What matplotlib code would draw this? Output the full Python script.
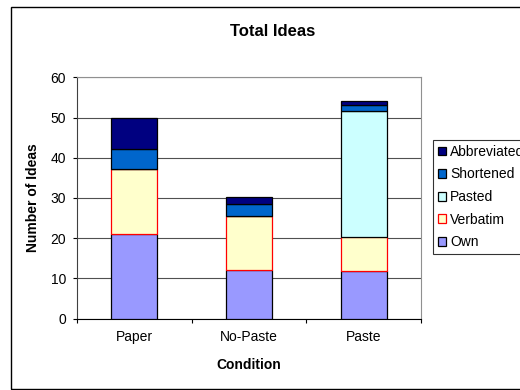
import matplotlib.pyplot as plt
import matplotlib.patches as patches
import numpy as np

# Values
conditions = ['Paper', 'No-Paste', 'Paste']
own = [20.9, 12.1, 11.7]
verbatim = [16.4, 13.5, 8.6]
pasted = [0, 0, 31.2]
shortened = [4.9, 2.9, 1.7]
abbreviated = [7.8, 1.7, 0.8]

series = [('Own', own, '#9999FF', 'black'),
          ('Verbatim', verbatim, '#FFFFCC', 'red'),
          ('Pasted', pasted, '#CCFFFF', 'black'),
          ('Shortened', shortened, '#0066CC', 'black'),
          ('Abbreviated', abbreviated, '#000080', 'black')]

plt.rcParams['font.family'] = ['Liberation Sans', 'DejaVu Sans']

W, H = 520, 390
fig = plt.figure(figsize=(W / 100, H / 100), dpi=100)
ax = fig.add_axes([77 / W, (H - 318.5) / H, (421 - 77) / W, (318.5 - 77.3) / H])

x = np.arange(len(conditions))
bottom = np.zeros(len(conditions))
handles = []
for name, vals, color, edge in series:
    vals = np.array(vals, dtype=float)
    b = ax.bar(x, vals, 0.4, bottom=bottom, color=color, edgecolor=edge,
               linewidth=0.9, label=name, zorder=3)
    handles.append(b)
    bottom += vals

ax.set_xlim(-0.5, 2.5)
ax.set_ylim(0, 60)
ax.set_yticks(range(0, 61, 10))
ax.yaxis.grid(True, color='#505050', linewidth=0.8, zorder=0)
ax.tick_params(axis='y', direction='out', length=3, width=0.8, pad=5, labelsize=10)

ax.set_xticks([-0.5, 0.5, 1.5, 2.5])
ax.set_xticklabels([])
ax.set_xticks(x, minor=True)
ax.set_xticklabels(conditions, minor=True)
ax.tick_params(axis='x', which='major', direction='out', length=3, width=0.8)
ax.tick_params(axis='x', which='minor', length=0, pad=8, labelsize=10)

for s in ['top', 'right']:
    ax.spines[s].set_color('#909090')
ax.spines['left'].set_color('#404040')
ax.spines['bottom'].set_color('black')

fig.text(273 / W, 1 - 31 / H, 'Total Ideas', ha='center', va='center',
         fontsize=12, fontweight='bold')
fig.text(249 / W, 1 - 365 / H, 'Condition', ha='center', va='center',
         fontsize=10, fontweight='bold')
fig.text(33 / W, 1 - 197.7 / H, 'Number of Ideas', ha='center', va='center',
         rotation=90, fontsize=10, fontweight='bold')

leg = fig.legend(handles[::-1], [s[0] for s in series][::-1],
                 loc='upper left', bbox_to_anchor=(432.7 / W, 1 - 140 / H),
                 fontsize=10, frameon=True, fancybox=False, shadow=False,
                 handlelength=0.6, handleheight=0.6, handletextpad=0.3,
                 labelspacing=0.62, borderpad=0.35, borderaxespad=0)
leg.get_frame().set_edgecolor('black')
leg.get_frame().set_linewidth(0.8)

# outer chart-area border
fig.patches.append(patches.Rectangle((11 / W, 1 / H), 600 / W, (388.5 - 6) / H,
                                     transform=fig.transFigure, fill=False,
                                     edgecolor='black', linewidth=1))

fig.savefig('out.png', dpi=100)
